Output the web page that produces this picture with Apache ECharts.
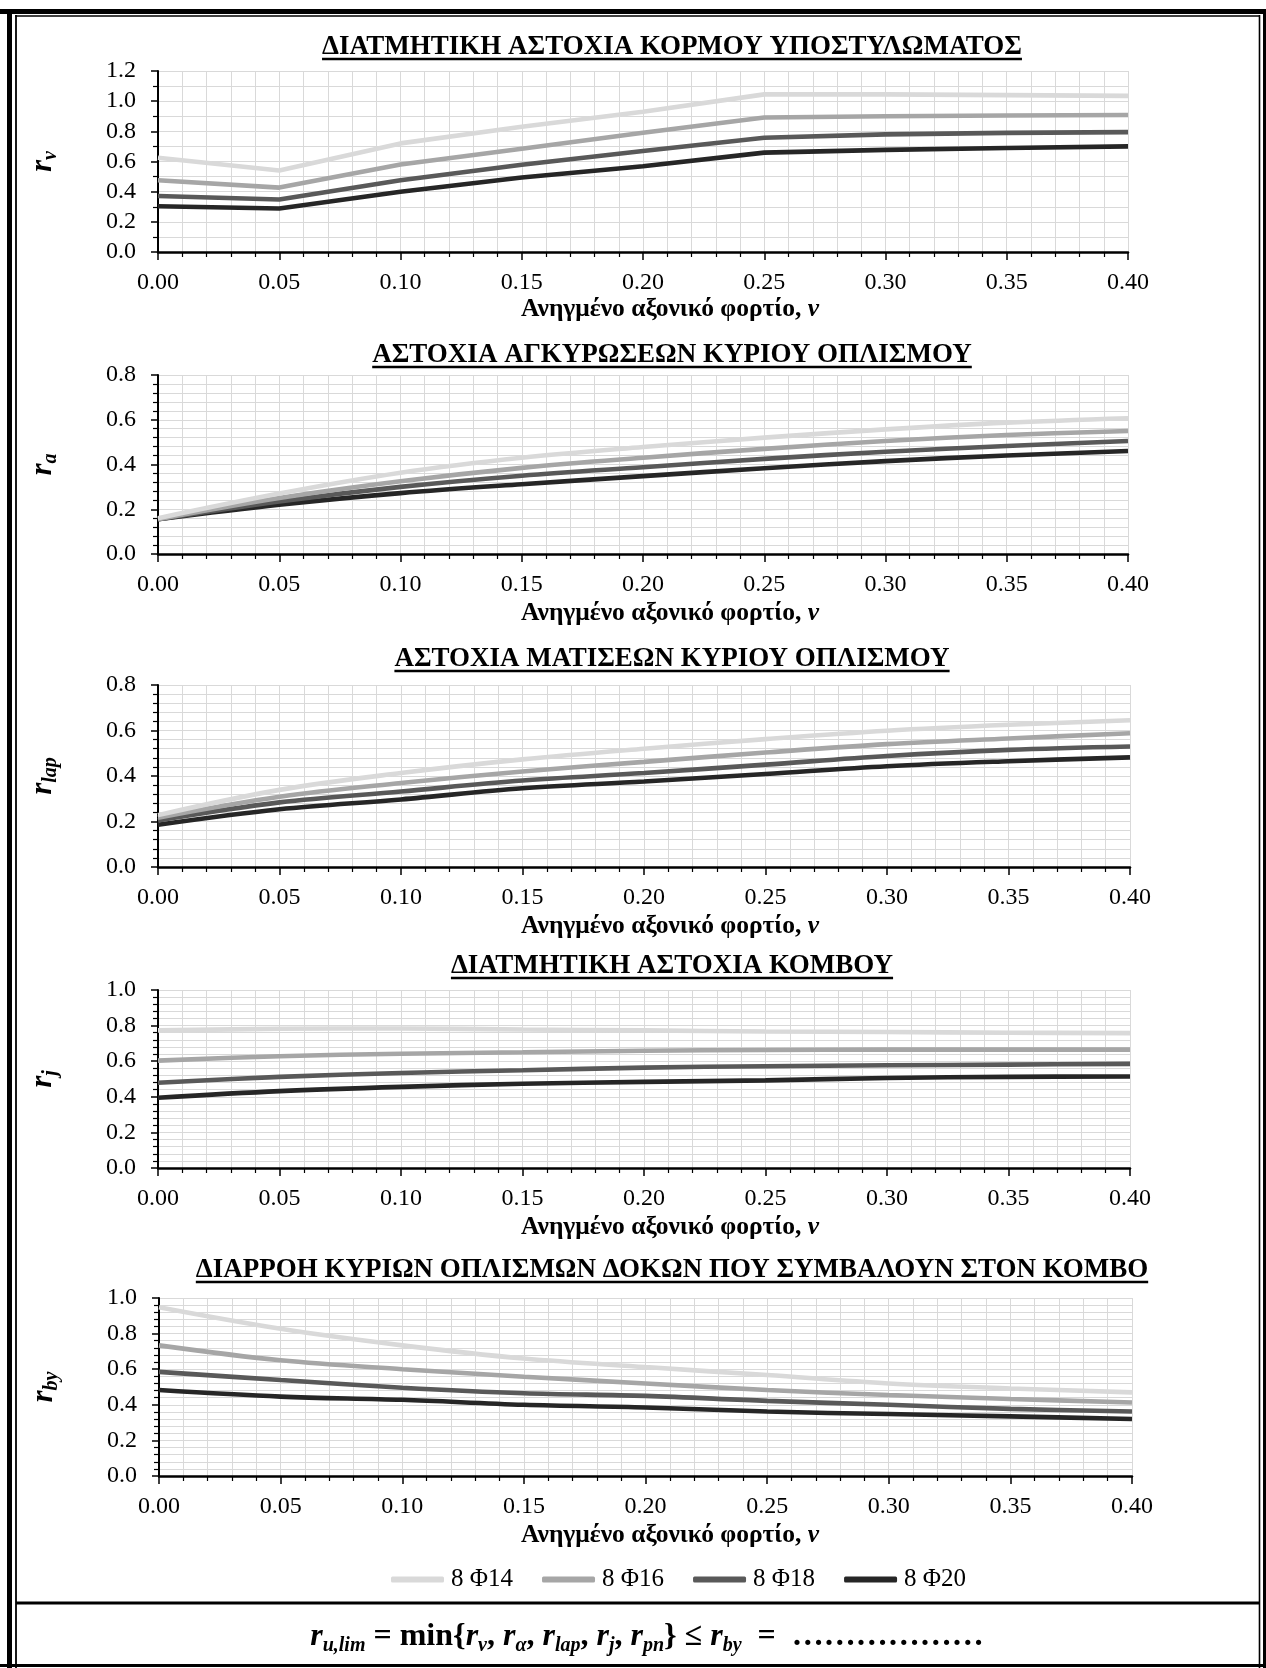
<!DOCTYPE html>
<html><head><meta charset="utf-8">
<script src="https://cdn.jsdelivr.net/npm/echarts@6/dist/echarts.min.js"></script>
<style>html,body{margin:0;padding:0;background:#fff}#c{width:1266px;height:1668px}</style>
</head><body><div id="c"></div>
<script>
// ---- data ----
const nu = [0.00, 0.05, 0.10, 0.15, 0.20, 0.25, 0.30, 0.35, 0.40];
const seriesNames = ['8 Φ14', '8 Φ16', '8 Φ18', '8 Φ20'];
const seriesColors = ['#d9d9d9', '#a6a6a6', '#595959', '#262626'];
const xTickLabels = ['0.00','0.05','0.10','0.15','0.20','0.25','0.30','0.35','0.40'];

// chart 1: r_v
const rv_F14 = [0.625, 0.54, 0.72, 0.83, 0.93, 1.045, 1.045, 1.04, 1.035];
const rv_F16 = [0.476, 0.427, 0.58, 0.685, 0.79, 0.892, 0.90, 0.905, 0.908];
const rv_F18 = [0.371, 0.348, 0.476, 0.578, 0.67, 0.757, 0.78, 0.79, 0.795];
const rv_F20 = [0.303, 0.288, 0.40, 0.494, 0.569, 0.659, 0.677, 0.69, 0.70];
// chart 2: r_a
const ra_F14 = [0.16, 0.27, 0.363, 0.43, 0.478, 0.52, 0.557, 0.587, 0.607];
const ra_F16 = [0.155, 0.25, 0.325, 0.385, 0.43, 0.47, 0.505, 0.532, 0.55];
const ra_F18 = [0.155, 0.235, 0.30, 0.35, 0.388, 0.425, 0.457, 0.483, 0.505];
const ra_F20 = [0.155, 0.22, 0.272, 0.312, 0.348, 0.383, 0.415, 0.44, 0.46];
// chart 3: r_lap
const rlap_F14 = [0.228, 0.339, 0.413, 0.473, 0.52, 0.562, 0.599, 0.625, 0.645];
const rlap_F16 = [0.217, 0.309, 0.369, 0.42, 0.462, 0.503, 0.54, 0.565, 0.588];
const rlap_F18 = [0.205, 0.284, 0.332, 0.38, 0.413, 0.45, 0.488, 0.515, 0.53];
const rlap_F20 = [0.186, 0.254, 0.297, 0.346, 0.376, 0.409, 0.443, 0.465, 0.482];
// chart 4: r_j
const rj_F14 = [0.773, 0.782, 0.784, 0.778, 0.773, 0.767, 0.764, 0.76, 0.758];
const rj_F16 = [0.603, 0.628, 0.642, 0.65, 0.659, 0.663, 0.665, 0.665, 0.665];
const rj_F18 = [0.479, 0.512, 0.534, 0.549, 0.564, 0.572, 0.577, 0.581, 0.585];
const rj_F20 = [0.395, 0.432, 0.456, 0.473, 0.484, 0.492, 0.506, 0.512, 0.514];
// chart 5: r_by
const rby_F14 = [0.948, 0.827, 0.734, 0.66, 0.612, 0.567, 0.52, 0.492, 0.47];
const rby_F16 = [0.734, 0.65, 0.60, 0.558, 0.52, 0.483, 0.455, 0.433, 0.413];
const rby_F18 = [0.585, 0.539, 0.496, 0.465, 0.45, 0.422, 0.40, 0.377, 0.362];
const rby_F20 = [0.483, 0.446, 0.428, 0.40, 0.385, 0.362, 0.348, 0.335, 0.32];

const chartTitles = [
  'ΔΙΑΤΜΗΤΙΚΗ ΑΣΤΟΧΙΑ ΚΟΡΜΟΥ ΥΠΟΣΤΥΛΩΜΑΤΟΣ',
  'ΑΣΤΟΧΙΑ ΑΓΚΥΡΩΣΕΩΝ ΚΥΡΙΟΥ ΟΠΛΙΣΜΟΥ',
  'ΑΣΤΟΧΙΑ ΜΑΤΙΣΕΩΝ ΚΥΡΙΟΥ ΟΠΛΙΣΜΟΥ',
  'ΔΙΑΤΜΗΤΙΚΗ ΑΣΤΟΧΙΑ ΚΟΜΒΟΥ',
  'ΔΙΑΡΡΟΗ ΚΥΡΙΩΝ ΟΠΛΙΣΜΩΝ ΔΟΚΩΝ ΠΟΥ ΣΥΜΒΑΛΟΥΝ ΣΤΟΝ ΚΟΜΒΟ'
];
const ySubscripts = ['v', 'a', 'lap', 'j', 'by'];
const yMax = [1.2, 0.8, 0.8, 1.0, 1.0];
const xAxisName = 'Ανηγμένο αξονικό φορτίο, ';
const xAxisNameItalic = 'ν';

const chartData = [
  [rv_F14, rv_F16, rv_F18, rv_F20],
  [ra_F14, ra_F16, ra_F18, ra_F20],
  [rlap_F14, rlap_F16, rlap_F18, rlap_F20],
  [rj_F14, rj_F16, rj_F18, rj_F20],
  [rby_F14, rby_F16, rby_F18, rby_F20]
];
const smoothFlags = [false, true, true, true, true];

// ---- layout / style ----
const FF = '"Liberation Serif", "Times New Roman", serif';
const grids = [
  {left: 158, top: 71, width: 970, height: 181},
  {left: 158, top: 375, width: 970, height: 179},
  {left: 158, top: 685, width: 972, height: 182},
  {left: 158, top: 990, width: 972, height: 178},
  {left: 159, top: 1298, width: 973, height: 178}
];
const yMinorSplit = [2, 5, 5, 5, 5];
const titleY = [47, 355, 659, 966, 1270];
const centerX = 672;
const nameCenterX = 670;
const titleFont = 'bold 27px ' + FF;

function measure(str, font) {
  const ctx = document.createElement('canvas').getContext('2d');
  ctx.font = font;
  return ctx.measureText(str).width;
}

const xAxes = [], yAxes = [], series = [], graphics = [];
grids.forEach((g, i) => {
  const gridCenter = g.left + g.width / 2;
  const shift = (nameCenterX - gridCenter) * 2;
  xAxes.push({
    type: 'value', gridIndex: i, min: 0, max: 0.4, interval: 0.05,
    axisLine: {show: true, onZero: false, lineStyle: {color: '#000', width: 2.5}},
    axisTick: {show: true, length: 8, lineStyle: {color: '#000', width: 1.5}},
    minorTick: {show: true, splitNumber: 5, length: 5, lineStyle: {color: '#000', width: 1.2}},
    splitLine: {show: true, lineStyle: {color: '#d9d9d9', width: 1}},
    minorSplitLine: {show: true, lineStyle: {color: '#d9d9d9', width: 1}},
    axisLabel: {formatter: v => xTickLabels[Math.round(v / 0.05)], fontFamily: FF, fontSize: 24, color: '#000', margin: 19},
    name: xAxisName + '{i|' + xAxisNameItalic + '}',
    nameLocation: 'middle', nameGap: i === 0 ? 44 : 46,
    nameTextStyle: {
      fontFamily: FF, fontWeight: 'bold', fontSize: 25.5, color: '#000',
      padding: shift > 0 ? [0, 0, 0, shift] : [0, -shift, 0, 0],
      rich: {i: {fontFamily: FF, fontWeight: 'bold', fontStyle: 'italic', fontSize: 25.5, color: '#000'}}
    }
  });
  yAxes.push({
    type: 'value', gridIndex: i, min: 0, max: yMax[i], interval: 0.2,
    axisLine: {show: true, onZero: false, lineStyle: {color: '#000', width: 2}},
    axisTick: {show: true, length: 7, lineStyle: {color: '#000', width: 1.5}},
    minorTick: {show: true, splitNumber: yMinorSplit[i], length: 5, lineStyle: {color: '#000', width: 1.2}},
    splitLine: {show: true, lineStyle: {color: '#d9d9d9', width: 1}},
    minorSplitLine: {show: true, lineStyle: {color: '#d9d9d9', width: 1}},
    axisLabel: {formatter: v => v.toFixed(1), fontFamily: FF, fontSize: 24, color: '#000', margin: 22},
    name: '{r|r}{s|' + ySubscripts[i] + '}',
    nameLocation: 'middle', nameGap: 97, nameRotate: 90,
    nameTextStyle: {
      rich: {
        r: {fontFamily: FF, fontWeight: 'bold', fontStyle: 'italic', fontSize: 31, lineHeight: 36, color: '#000'},
        s: {fontFamily: FF, fontWeight: 'bold', fontStyle: 'italic', fontSize: 20, lineHeight: 16, verticalAlign: 'bottom', color: '#000'}
      }
    }
  });
  chartData[i].forEach((vals, k) => {
    series.push({
      type: 'line', name: seriesNames[k], xAxisIndex: i, yAxisIndex: i,
      data: nu.map((x, j) => [x, vals[j]]),
      smooth: smoothFlags[i] ? 0.35 : false,
      showSymbol: false, symbol: 'none',
      color: seriesColors[k],
      lineStyle: {color: seriesColors[k], width: 4.6},
      z: 3 + (3 - k),
      animation: false, silent: true
    });
  });
  // title + underline
  const tw = measure(chartTitles[i], titleFont);
  graphics.push({
    type: 'text', x: centerX, y: titleY[i], z: 10,
    style: {text: chartTitles[i], font: titleFont, fill: '#000', align: 'center', verticalAlign: 'middle'}
  });
  graphics.push({
    type: 'line', z: 10,
    shape: {x1: centerX - tw / 2, y1: titleY[i] + 12, x2: centerX + tw / 2, y2: titleY[i] + 12},
    style: {stroke: '#000', lineWidth: 2.5}
  });
});

// frame
const frame = [
  {x1: 0, y1: 11.5, x2: 1266, y2: 11.5, w: 5},
  {x1: 9.5, y1: 9, x2: 9.5, y2: 1668, w: 5},
  {x1: 15, y1: 16, x2: 1260, y2: 16, w: 1.6},
  {x1: 16, y1: 15, x2: 16, y2: 1668, w: 1.8},
  {x1: 1259.5, y1: 15, x2: 1259.5, y2: 1668, w: 1.6},
  {x1: 1264.5, y1: 9, x2: 1264.5, y2: 1668, w: 3},
  {x1: 0, y1: 1665.5, x2: 1266, y2: 1665.5, w: 3},
  {x1: 16, y1: 1603, x2: 1260, y2: 1603, w: 3}
];
frame.forEach(f => graphics.push({
  type: 'line', z: 20, shape: {x1: f.x1, y1: f.y1, x2: f.x2, y2: f.y2},
  style: {stroke: '#000', lineWidth: f.w}
}));

// formula
graphics.push({
  type: 'text', x: 647, y: 1637, z: 10,
  style: {
    text: '{ri|r}{sb|u,lim}{rm| = min{}{ri|r}{sb|v}{rm|, }{ri|r}{sb|α}{rm|, }{ri|r}{sb|lap}{rm|, }{ri|r}{sb|j}{rm|, }{ri|r}{sb|pn}} ≤ {ri|r}{sb|by}{rm|  =  }{dt|………………}',
    font: 'bold 32px ' + FF, fill: '#000', lineHeight: 38,
    align: 'center', verticalAlign: 'middle',
    rich: {
      ri: {fontFamily: FF, fontWeight: 'bold', fontStyle: 'italic', fontSize: 32, lineHeight: 38, fill: '#000'},
      rm: {fontFamily: FF, fontWeight: 'bold', fontSize: 32, lineHeight: 38, fill: '#000'},
      dt: {fontFamily: FF, fontWeight: 'bold', fontSize: 32, lineHeight: 38, fill: '#000'},
      sb: {fontFamily: FF, fontWeight: 'bold', fontStyle: 'italic', fontSize: 20, lineHeight: 17, verticalAlign: 'bottom', fill: '#000'}
    }
  }
});

const chart = echarts.init(document.getElementById('c'), null, {renderer: 'canvas'});
chart.setOption({
  backgroundColor: '#fff',
  animation: false,
  grid: grids,
  xAxis: xAxes,
  yAxis: yAxes,
  series: series,
  legend: {
    data: seriesNames, left: 386, top: 1562, itemWidth: 53, itemHeight: 6, itemGap: 29,
    icon: 'roundRect', selectedMode: false,
    textStyle: {fontFamily: FF, fontSize: 25, color: '#000', padding: [0, 0, 0, 2]}
  },
  graphic: graphics
});
</script>
</body></html>
